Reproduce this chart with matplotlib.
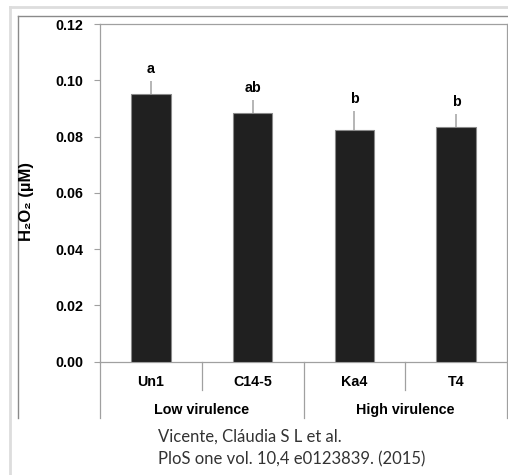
import matplotlib

matplotlib.use("Agg")
import matplotlib.pyplot as plt
from matplotlib.lines import Line2D
import matplotlib.transforms as mtransforms

plt.rcParams.update(
    {
        "font.family": ["Liberation Sans", "DejaVu Sans"],
        "font.weight": "bold",
    }
)

# data
strains = ["Un1", "C14-5", "Ka4", "T4"]
h2o2_mean = [0.0953, 0.0885, 0.0823, 0.0836]
h2o2_err = [0.0044, 0.0046, 0.0068, 0.0044]
letters = ["a", "ab", "b", "b"]
groups = ["Low virulence", "High virulence"]
yticks = [0.00, 0.02, 0.04, 0.06, 0.08, 0.10, 0.12]

W, H = 508, 475
GRID = "#a0a0a0"
FS = 10.3

fig = plt.figure(figsize=(W / 100, H / 100), dpi=100)


# outer frame (light) and inner picture border (darker)
def fig_line(x0, y0, x1, y1, color, lw):
    fig.add_artist(Line2D([x0 / W, x1 / W], [1 - y0 / H, 1 - y1 / H], color=color, lw=lw))


fig_line(9.5, 7, 9.5, H, "#dddddd", 2.0)
fig_line(9.5, 7, W, 7, "#dddddd", 2.0)
fig_line(18, 16, 18, 418, "#8a8a8a", 1.0)
fig_line(18, 16, W, 16, "#8a8a8a", 1.0)

ax = fig.add_axes([100 / W, 1 - 361.5 / H, 407 / W, 337.2 / H])
x = list(range(len(strains)))
ax.bar(x, h2o2_mean, width=0.39, color="#202020", edgecolor="#8a8a8a", linewidth=0.8, zorder=3)
ax.errorbar(
    x,
    h2o2_mean,
    yerr=[[0] * len(x), h2o2_err],
    fmt="none",
    ecolor="#b0b0b0",
    elinewidth=1.3,
    capsize=0,
    zorder=2,
)
for xi, m, e, lab in zip(x, h2o2_mean, h2o2_err, letters):
    ax.annotate(
        lab,
        xy=(xi, m + e),
        xytext=(0, 3.5),
        textcoords="offset points",
        ha="center",
        va="bottom",
        fontsize=FS,
        fontweight="bold",
    )

ax.set_xlim(-0.5, 3.5)
ax.set_ylim(0, 0.12)
ax.set_yticks(yticks)
ax.set_yticklabels([f"{v:.2f}" for v in yticks], fontsize=FS, fontweight="bold")
ax.tick_params(axis="y", direction="out", length=4, width=0.8, color=GRID, pad=8)
ax.set_xticks([])
for side in ["left", "right", "top", "bottom"]:
    ax.spines[side].set_color(GRID)
    ax.spines[side].set_linewidth(0.9)

trans = mtransforms.blended_transform_factory(ax.transData, ax.transAxes)
for xi, name in zip(x, strains):
    ax.text(xi, -0.061, name, transform=trans, ha="center", va="center", fontsize=FS, fontweight="bold")
for gi, name in enumerate(groups):
    ax.text(0.5 + 2 * gi, -0.144, name, transform=trans, ha="center", va="center", fontsize=FS, fontweight="bold")

# category separators below the axis
for xs in [-0.5, 0.5, 1.5, 2.5, 3.5]:
    low = -0.1676 if xs in (-0.5, 1.5, 3.5) else -0.0845
    ax.add_line(Line2D([xs, xs], [0, low], transform=trans, color=GRID, lw=0.9, clip_on=False))

fig.text(27 / W, 1 - 201 / H, "H₂O₂ (µM)", rotation=90,
         ha="center", va="center", fontsize=12, fontweight="bold")

fig.text(158 / W, 1 - 437 / H, "Vicente, Cláudia S L et al.", ha="left", va="center",
         fontsize=12, fontweight="normal", color="#333333", family=["Lato", "DejaVu Sans"])
fig.text(158 / W, 1 - 459 / H, "PloS one vol. 10,4 e0123839. (2015)", ha="left", va="center",
         fontsize=12, fontweight="normal", color="#333333", family=["Lato", "DejaVu Sans"])

fig.savefig("out.png", dpi=100)
